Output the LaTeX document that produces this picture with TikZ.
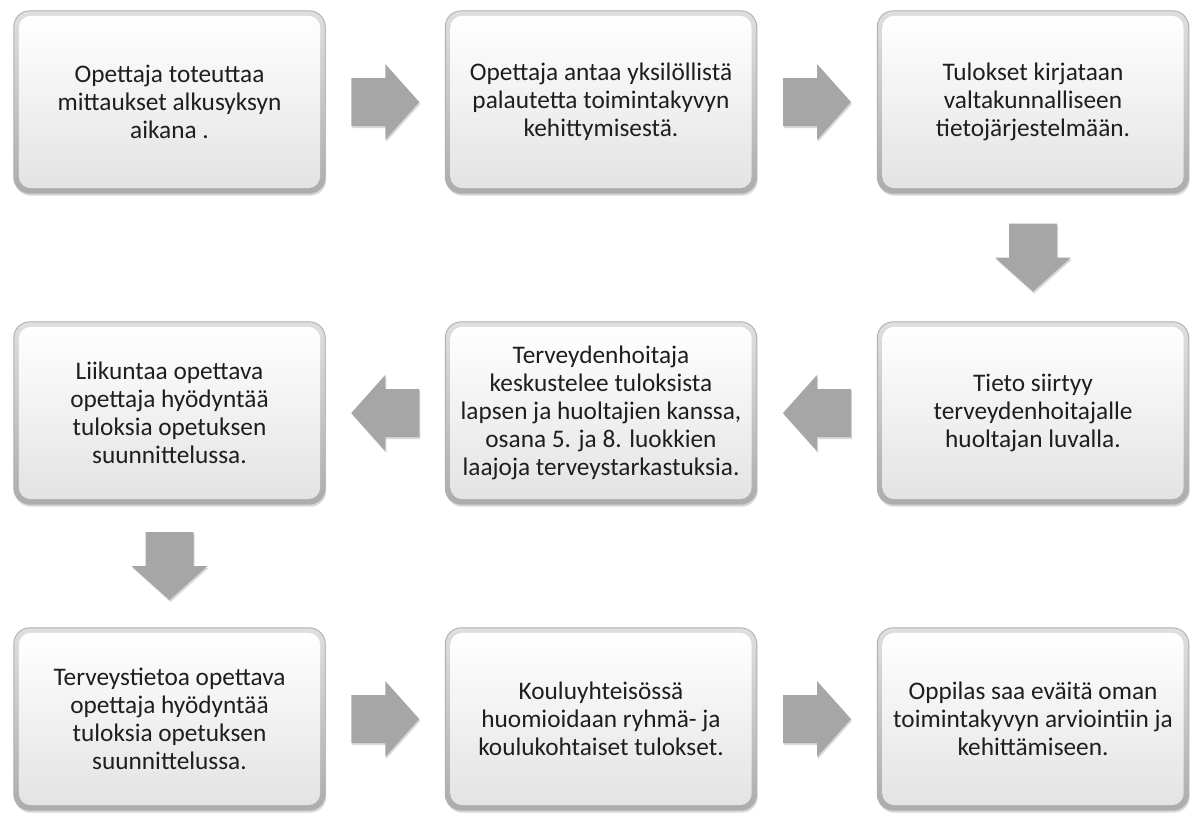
\documentclass[tikz,border=0pt]{standalone}
\usepackage{fontspec}
\setmainfont{Carlito}
\usetikzlibrary{calc,shadows,backgrounds}
\pgfdeclarelayer{bgzero}
\pgfsetlayers{bgzero,background,main}
\definecolor{txt}{HTML}{1E1E1E}
\definecolor{arrgray}{HTML}{A6A6A6}
\begin{document}
\begin{tikzpicture}[x=1pt,y=-1pt,
  stepbox/.style={minimum width=311pt,minimum height=182pt,inner sep=0pt,align=center,
    font=\fontsize{25.3}{28}\selectfont,text=txt},
  outerbox/.style={rounded corners=16pt,top color=gray!25,bottom color=gray!65,draw=gray!62,line width=0.9pt,
    drop shadow={opacity=0.3,shadow xshift=1pt,shadow yshift=-2.5pt}},
  innerbox/.style={rounded corners=12pt,top color=white,bottom color=gray!22},
  arrowfill/.style={fill=arrgray,draw=none,drop shadow={opacity=0.3,shadow xshift=1pt,shadow yshift=-2pt}},
  arrR/.pic={\path[arrowfill] (-34,-24) -- (0,-24) -- (0,-38) -- (34,0) -- (0,38) -- (0,24) -- (-34,24) -- cycle;},
  arrL/.pic={\path[arrowfill] (34,-24) -- (0,-24) -- (0,-38) -- (-34,0) -- (0,38) -- (0,24) -- (34,24) -- cycle;},
  arrD/.pic={\path[arrowfill] (-24,-34) -- (-24,0) -- (-38,0) -- (0,34) -- (38,0) -- (24,0) -- (24,-34) -- cycle;}
]
\useasboundingbox (0,0) rectangle (1192,814);
\begin{pgfonlayer}{bgzero}
  \fill[white] (0,0) rectangle (1192,814);
\end{pgfonlayer}

\node[stepbox] (b1) at (169.5,102) {Opettaja toteuttaa\\mittaukset alkusyksyn\\aikana .};
\node[stepbox] (b2) at (601,102) {Opettaja antaa yksilöllistä\\palautetta toimintakyvyn\\kehittymisestä.};
\node[stepbox] (b3) at (1033,102) {Tulokset kirjataan\\valtakunnalliseen\\tietojärjestelmään.};
\node[stepbox] (b4) at (1033,413) {Tieto siirtyy\\terveydenhoitajalle\\huoltajan luvalla.};
\node[stepbox] (b5) at (601,413) {Terveydenhoitaja\\keskustelee tuloksista\\lapsen ja huoltajien kanssa,\\osana 5. ja 8. luokkien\\laajoja terveystarkastuksia.};
\node[stepbox] (b6) at (169.5,413) {Liikuntaa opettava\\opettaja hyödyntää\\tuloksia opetuksen\\suunnittelussa.};
\node[stepbox] (b7) at (169.5,719) {Terveystietoa opettava\\opettaja hyödyntää\\tuloksia opetuksen\\suunnittelussa.};
\node[stepbox] (b8) at (601,719) {Kouluyhteisössä\\huomioidaan ryhmä- ja\\koulukohtaiset tulokset.};
\node[stepbox] (b9) at (1033,719) {Oppilas saa eväitä oman\\toimintakyvyn arviointiin ja\\kehittämiseen.};

\begin{scope}[on background layer]
  \foreach \n in {b1,b2,b3,b4,b5,b6,b7,b8,b9} {
    \path[outerbox] (\n.north west) rectangle (\n.south east);
    \path[innerbox] ([shift={(5pt,-5pt)}]\n.north west) rectangle ([shift={(-5pt,5pt)}]\n.south east);
  }
\end{scope}

\pic at ($(b1.east)!0.5!(b2.west)$) {arrR};
\pic at ($(b2.east)!0.5!(b3.west)$) {arrR};
\pic at ($(b3.south)!0.5!(b4.north)$) {arrD};
\pic at ($(b4.west)!0.5!(b5.east)$) {arrL};
\pic at ($(b5.west)!0.5!(b6.east)$) {arrL};
\pic at ($(b6.south)!0.5!(b7.north)$) {arrD};
\pic at ($(b7.east)!0.5!(b8.west)$) {arrR};
\pic at ($(b8.east)!0.5!(b9.west)$) {arrR};
\end{tikzpicture}
\end{document}
